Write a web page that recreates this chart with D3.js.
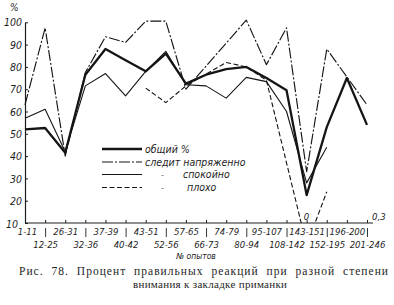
<!DOCTYPE html>
<html>
<head>
<meta charset="utf-8">
<script src="https://cdn.jsdelivr.net/npm/d3@7"></script>
<style>
  body { margin: 0; background: #fff; }
  svg text { fill: #1e1e1e; }
  .lbl { font-family: 'DejaVu Sans', sans-serif; font-stretch: condensed; font-style: italic; }
  .cap { font-family: 'Liberation Serif', 'DejaVu Serif', serif; }
</style>
</head>
<body>
<svg id="chart" width="394" height="305"></svg>
<script>
// № опытов (groups of trials)
const categories = ['1-11', '12-25', '26-31', '32-36', '37-39', '40-42', '43-51', '52-56', '57-65',
  '66-73', '74-79', '80-94', '95-107', '108-142', '143-151', '152-195', '196-200', '201-246']

// percent of correct reactions, null = no point
const obshchiy = [52, 52.6, 41.5, 76.5, 88, 83, 78, 86, 72.5, 76.5, 79, 80, 75, 69.5, 22.5, 53, 75, 54]
const napryazhenno = [63, 97.5, 40, 77.5, 93.5, 91, 100.5, 100.5, 70, null, null, 101, 81, 97.5, 33, 88, null, 63]
const spokoino = [57, 61, 42, 71.5, 77, 67, 78, 87, 72, 71.5, 66, 75.3, 73.4, 60, 28, 44, null, null]
const plokho = [null, null, null, null, null, null, 70.5, 64, 71.5, null, 82, 80, 74, null, 0, 24, null, null]

const yTicks = [10, 20, 30, 40, 50, 60, 70, 80, 90, 100]
const legendLabels = ['общий %', 'следит напряженно', 'спокойно', 'плохо']
const noteCats = ['143-151', '201-246']
const noteTexts = ['0', '0,3']

const svg = d3.select('#chart')
const x = d3.scalePoint().domain(categories).range([25, 367])
const y = d3.scaleLinear().domain([10, 100]).range([223, 22.3])

const series = [
  {name: legendLabels[0], values: obshchiy, width: 2.3, dash: null},
  {name: legendLabels[1], values: napryazhenno, width: 1.15, dash: '11,2,2,2'},
  {name: legendLabels[2], values: spokoino, width: 1.1, dash: null},
  {name: legendLabels[3], values: plokho, width: 1.1, dash: '5,2.5'},
]

// y axis
svg.append('g')
  .attr('transform', 'translate(25,0)')
  .call(d3.axisLeft(y).tickValues(yTicks).tickSize(-3).tickSizeOuter(0).tickPadding(3))
  .call((g) => g.select('.domain').attr('stroke', '#1e1e1e').attr('stroke-width', 1.2))
  .call((g) => g.selectAll('.tick line').attr('stroke', '#1e1e1e'))
  .call((g) => g.selectAll('.tick text')
    .attr('class', 'lbl')
    .attr('fill', '#1e1e1e')
    .style('font-size', '10.5px')
    .attr('x', (d) => d === 10 ? -7 : -3)
    .attr('dy', (d) => d === 10 ? '0.45em' : '0.35em'))

svg.append('text')
  .attr('class', 'lbl')
  .attr('x', 10)
  .attr('y', 11)
  .style('font-size', '10px')
  .text('%')

// x axis
const xAxis = svg.append('g')
  .attr('transform', `translate(0,${y(10)})`)
  .call(d3.axisBottom(x).tickSize(-3).tickSizeOuter(0).tickPadding(0))
xAxis.select('.domain').remove()
xAxis.append('line')
  .attr('x1', x(categories[0]))
  .attr('x2', x(categories[categories.length - 1]) + 6)
  .attr('stroke', '#1e1e1e')
  .attr('stroke-width', 1.2)
xAxis.selectAll('.tick line').attr('stroke', '#1e1e1e')
xAxis.selectAll('.tick text')
  .attr('class', 'lbl')
  .style('font-size', '9.5px')
  .attr('fill', '#1e1e1e')
  .attr('x', (d, i) => i === 0 ? 2 : 0)
  .attr('y', (d, i) => i % 2 ? 25 : 12)
  .attr('dy', 0)
xAxis.selectAll('.tick')
  .filter((d, i) => i % 2 === 1)
  .append('line')
  .attr('y1', 5)
  .attr('y2', 14)
  .attr('stroke', '#1e1e1e')
  .attr('stroke-width', 0.9)

svg.append('text')
  .attr('class', 'lbl')
  .attr('x', 196)
  .attr('y', 259)
  .attr('text-anchor', 'middle')
  .style('font-size', '8.5px')
  .text('№ опытов')

// lines, clipped at the x axis
svg.append('clipPath')
  .attr('id', 'plot-clip')
  .append('rect')
  .attr('x', 0)
  .attr('y', 0)
  .attr('width', 394)
  .attr('height', y(10))

const line = d3.line()
  .x((d) => x(d.cat))
  .y((d) => y(d.v))

svg.append('g')
  .attr('clip-path', 'url(#plot-clip)')
  .selectAll('path')
  .data(series)
  .enter()
  .append('path')
  .attr('fill', 'none')
  .attr('stroke', '#151515')
  .attr('stroke-width', (s) => s.width)
  .attr('stroke-dasharray', (s) => s.dash)
  .attr('stroke-linejoin', 'round')
  .attr('d', (s) => line(categories.map((c, i) => ({cat: c, v: s.values[i]})).filter((d) => d.v !== null)))

// off-scale notes
svg.selectAll('.note')
  .data(noteCats)
  .enter()
  .append('text')
  .attr('class', 'lbl note')
  .attr('x', (c, i) => x(c) + (i ? 5 : -3))
  .attr('y', 220)
  .style('font-size', '9.5px')
  .text((c, i) => noteTexts[i])

// legend
const legendY = [149, 162, 174.5, 187.5]
const legend = svg.append('g')
legend.selectAll('line')
  .data(series)
  .enter()
  .append('line')
  .attr('x1', 102)
  .attr('x2', 142)
  .attr('y1', (s, i) => legendY[i])
  .attr('y2', (s, i) => legendY[i])
  .attr('stroke', '#151515')
  .attr('stroke-width', (s) => s.width)
  .attr('stroke-dasharray', (s) => s.dash)
legend.selectAll('text.name')
  .data(series)
  .enter()
  .append('text')
  .attr('class', 'lbl name')
  .attr('x', (s, i) => [145, 145, 183, 187][i])
  .attr('y', (s, i) => legendY[i] + 3.5)
  .style('font-size', '10.5px')
  .text((s) => s.name)
legend.selectAll('text.ditto')
  .data(series.slice(2))
  .enter()
  .append('text')
  .attr('class', 'lbl ditto')
  .attr('x', 161)
  .attr('y', (s, i) => legendY[i + 2] + 3)
  .style('font-size', '9px')
  .text('-')

// caption
svg.append('text')
  .attr('class', 'cap')
  .attr('x', 19)
  .attr('y', 274.5)
  .attr('textLength', 369)
  .attr('lengthAdjust', 'spacing')
  .style('font-size', '11.5px')
  .style('word-spacing', '4px')
  .text('Рис. 78. Процент правильных реакций при разной степени')
svg.append('text')
  .attr('class', 'cap')
  .attr('x', 133)
  .attr('y', 288)
  .attr('textLength', 154)
  .attr('lengthAdjust', 'spacing')
  .style('font-size', '11px')
  .text('внимания к закладке приманки')
</script>
</body>
</html>
